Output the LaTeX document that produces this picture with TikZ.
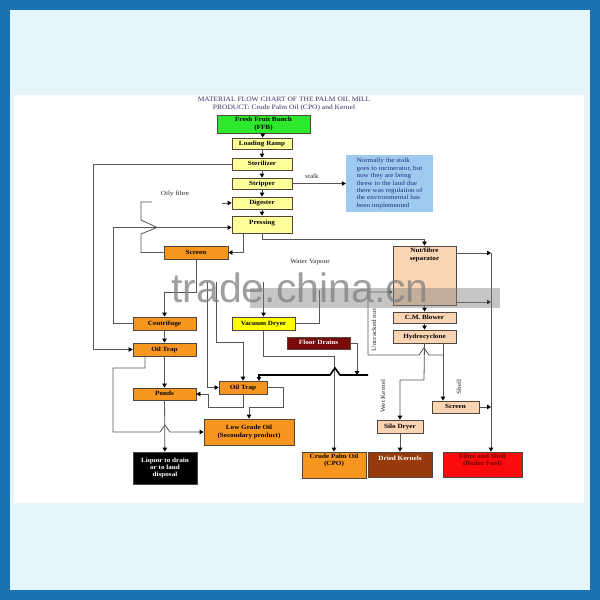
\documentclass[tikz,border=0pt]{standalone}
\usepackage{fontspec}
\setmainfont{Liberation Serif}[FakeStretch=1.12]
\setsansfont{Liberation Sans}
\usetikzlibrary{arrows.meta,calc}

\definecolor{frameblue}{RGB}{26,114,176}
\definecolor{skyback}{RGB}{230,244,251}
\definecolor{lyellow}{RGB}{255,255,153}
\definecolor{vyellow}{RGB}{255,255,0}
\definecolor{ffbgreen}{RGB}{45,232,45}
\definecolor{orangebox}{RGB}{247,150,30}
\definecolor{peach}{RGB}{251,212,180}
\definecolor{maroonbox}{RGB}{120,10,10}
\definecolor{brownbox}{RGB}{152,58,12}
\definecolor{redbox}{RGB}{250,12,12}
\definecolor{darkredtext}{RGB}{110,0,0}
\definecolor{notebox}{RGB}{158,202,240}
\definecolor{notetext}{RGB}{30,50,120}
\definecolor{titlecol}{RGB}{50,50,100}
\definecolor{linegray}{RGB}{85,85,85}
\definecolor{boxedge}{RGB}{80,70,60}

\tikzset{
  boxbase/.style={draw=boxedge, line width=0.8pt, inner sep=0pt,
    font=\fontsize{6.4}{7.2}\selectfont\bfseries},
  box/.style={boxbase, text height=4.5pt, text depth=1.4pt},
  mbox/.style={boxbase, align=center},
  ybox/.style={box, fill=lyellow, minimum width=60, minimum height=11},
  obox/.style={box, fill=orangebox},
  pbox/.style={box, fill=peach},
  flow/.style={draw=linegray, line width=0.8pt, -{Triangle[length=4pt,width=4.5pt,color=black]}},
  plain/.style={draw=linegray, line width=0.8pt},
  lbl/.style={font=\fontsize{6.4}{7.2}\selectfont, text=black!85, inner sep=0pt},
}

\begin{document}
\begin{tikzpicture}[x=1pt,y=-1pt]
\useasboundingbox (0,0) rectangle (600,600);
% frame and background
\fill[frameblue] (0,0) rectangle (600,600);
\fill[skyback] (10,10) rectangle (590,590);
\fill[white] (14,95) rectangle (584,503);

% title
\node[font=\fontsize{6.7}{7.5}\selectfont, text=titlecol, align=center] (title) at (284,104)
  {MATERIAL FLOW CHART OF THE PALM OIL MILL\\PRODUCT: Crude Palm Oil (CPO) and Kernel};

% main column
\node[mbox, fill=ffbgreen, minimum width=93, minimum height=18] (ffb) at (263.5,124) {Fresh Fruit Bunch\\(FFB)};
\node[ybox] (lr) at (262,143.5) {Loading Ramp};
\node[ybox, minimum height=12] (st) at (262,164) {Sterilizer};
\node[ybox] (sp) at (262,183.5) {Stripper};
\node[ybox, minimum height=12] (dg) at (262,203) {Digester};
\node[ybox, minimum height=17, text height=8pt, text depth=9pt] (pr) at (262,224.5) {Pressing};

% note
\node[draw=none, fill=notebox, minimum width=87, minimum height=57, inner sep=3pt, align=left,
  text=notetext, font=\fontsize{6.4}{7.4}\selectfont] (note) at (389.5,183.5)
  {Normally the stalk\\goes to incinerator, but\\now they are being\\threw to the land due\\there was regulation of\\the environmental has\\been implemented};

% left / centre boxes
\node[obox, minimum width=64, minimum height=13] (scr) at (196,252.5) {Screen};
\node[obox, minimum width=63, minimum height=13] (cen) at (164.5,323.5) {Centrifuge};
\node[obox, minimum width=63, minimum height=13] (ot1) at (164.5,349.5) {Oil Trap};
\node[obox, minimum width=63, minimum height=12] (pd) at (164.5,394) {Ponds};
\node[mbox, fill=black, text=white, minimum width=64, minimum height=32] (lq) at (165,468) {Liquor to drain\\or to land\\disposal};
\node[obox, minimum width=48, minimum height=13] (ot2) at (243,387.5) {Oil Trap};
\node[mbox, fill=orangebox, minimum width=90, minimum height=26] (lgo) at (249,432) {Low Grade Oil\\(Secondary product)};
\node[box, fill=vyellow, minimum width=63, minimum height=13] (vd) at (263.5,323.5) {Vacuum Dryer};
\node[box, fill=maroonbox, text=white, minimum width=63, minimum height=12] (fd) at (318.5,343) {Floor Drains};
\node[mbox, fill=orangebox, minimum width=64, minimum height=26] (cpo) at (334,465) {Crude Palm Oil\\(CPO)\\[3pt]};

% right column
\node[mbox, fill=peach, minimum width=63, minimum height=59] (nfs) at (424.5,275.5) {Nut/fibre\\separator\\\rule{0pt}{40pt}};
\node[pbox, minimum width=63, minimum height=11] (cmb) at (424.5,317.5) {C.M. Blower};
\node[pbox, minimum width=63, minimum height=13] (hc) at (424.5,336.5) {Hydrocyclone};
\node[pbox, minimum width=46, minimum height=13] (sd) at (400,426.5) {Silo Dryer};
\node[pbox, minimum width=47, minimum height=12] (sc2) at (455.5,407) {Screen};
\node[box, fill=brownbox, text=white, minimum width=64, minimum height=25, text height=8pt, text depth=17pt] (dk) at (400,464.5) {Dried Kernels};
\node[mbox, fill=redbox, text=darkredtext, minimum width=79, minimum height=25] (fs) at (482.5,464.5) {Fibre and Shell\\(Boiler Fuel)\\[3pt]};

% labels
\node[lbl] (oily) at (175,194) {Oily fibre};
\node[lbl] (stalk) at (312,176) {stalk};
\node[lbl] (wv) at (310,262) {Water Vapour};
\node[lbl, rotate=90] (unc) at (374,330) {Uncracked nut};
\node[lbl, rotate=90] (wk) at (383,396) {Wet Kernel};
\node[lbl, rotate=90] (shell) at (459,387) {Shell};

% free ends
\coordinate (dgin) at (222,203);
\coordinate (thickend) at (368,375);
\coordinate (fsline) at (491,253);
\coordinate (wvend) at (319,290);
\coordinate (vdsrc) at (263.5,282);
\coordinate (ot2srcA) at (207,282);
\coordinate (ot2srcB) at (216,282);

% main chain
\draw[flow] (ffb) -- (lr);
\draw[flow] (lr) -- (st);
\draw[flow] (st) -- (sp);
\draw[flow] (sp) -- (dg);
\draw[flow] (dg) -- (pr);
\draw[flow] (sp.east) -- (note.west);
\draw[flow] (dgin) -- (dg.west);

% sterilizer condensate to oil trap
\draw[flow] (st.west) -| (93,349.5) -- (ot1.west);
% pressing to nut/fibre separator
\draw[flow] (pr.south) -- (262,239) -| (nfs.north);
% pressing to screen
\draw[flow] (243,233) |- (scr.east);
% oily fibre
\draw[plain] (scr.west) -- (141,252.5) -- (141,234) -- (157,227.5) -- (141,220) -- (141,202) -- (152,202);
% centrifuge back to pressing
\draw[flow] (cen.west) -| (113,227.5) -- (pr.west |- 0,227.5);
% screen to centrifuge
\draw[flow] (scr.south) -- (196,292) -| (cen.north);
\draw[flow] (cen) -- (ot1);
\draw[flow] (ot1) -- (pd);
\draw[flow] (pd) -- (lq);
% oil trap 1 to low grade oil
\draw[flow] (145,356) -- (145,368) -| (113,432) -- (160,432) -- (165,425) -- (170,432) -- (lgo.west);
% to oil trap 2
\draw[flow] (ot2srcA) |- (ot2.west);
\draw[flow] (ot2srcB) -- (216,342) -| (ot2.north);
% oil trap 2 to ponds
\draw[flow] (ot2.south) -- (243,407) -- (208,407) |- (pd.east);
% oil trap 2 to low grade oil
\draw[flow] (ot2.east) -| (283,407) -| (lgo.north);
% into vacuum dryer
\draw[flow] (vdsrc) -- (vd.north);
% vacuum dryer
\draw[plain] (vd.east) -| (wvend);
\draw[flow] (vd.south) |- (334,356) -- (cpo.north);
% floor drains
\draw[flow] (fd.east) -| (357,375);
\draw[line width=1.6pt, -{Triangle[length=4pt,width=4.5pt,color=black]}] (thickend) -- (340,375) -- (335,368) -- (330,375) -- (259,375) -- (259,381);

% right side
\draw[flow] (nfs.east |- 0,253) -- (fsline);
\draw[flow] (fsline) -- (fs.north -| fsline);
\draw[flow] (nfs) -- (cmb);
\draw[flow] (cmb) -- (hc);
\draw[flow] (hc.south) -- (424,380) -| (sd.north);
\draw[flow] (443,343) -- (sc2.north -| 443,0);
\draw[flow] (sd) -- (dk);
\draw[flow] (sc2.east) -- (491,407);
\draw[flow] (443,355) -- (429,355) -- (424,348) -- (419,355) -- (368,355) -- (368,292) -- (nfs.west |- 0,292);
\draw[flow] (nfs.east |- 0,302) -- (491,302);

% watermark
\fill[gray, opacity=0.45] (250,288) rectangle (500,308);
\node[font=\sffamily\fontsize{41}{41}\selectfont, text=gray, opacity=0.75, anchor=base] (wm) at (300,302) {trade.china.cn};
\end{tikzpicture}
\end{document}
